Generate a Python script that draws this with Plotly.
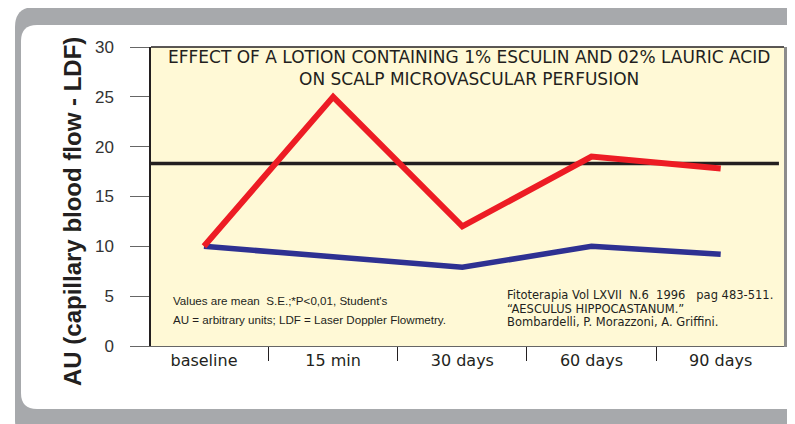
import plotly.graph_objects as go

categories = ["baseline", "15 min", "30 days", "60 days", "90 days"]
lotion = [10.0, 25.0, 12.0, 19.0, 17.8]
control = [10.0, 9.0, 7.9, 10.0, 9.2]
reference_level = 18.3
y_ticks = [0, 5, 10, 15, 20, 25, 30]

title_lines = ["EFFECT OF A LOTION CONTAINING 1% ESCULIN AND 02% LAURIC ACID",
               "ON SCALP MICROVASCULAR PERFUSION"]
note_left = ["Values are mean  S.E.;*P<0,01, Student's",
             "AU = arbitrary units; LDF = Laser Doppler Flowmetry."]
note_right = ["Fitoterapia Vol LXVII  N.6  1996   pag 483-511.",
              "\u201cAESCULUS HIPPOCASTANUM.\u201d",
              "Bombardelli, P. Morazzoni, A. Griffini."]

# page is 795x424 but the body has an 8px margin
OFF = 8
W, H = 795 - OFF, 424 - OFF
L, R, T, B = 151, 784, 47, 346  # plot area in page pixels


def px(x):
    return (x - L) / (R - L)


def py(y):
    return (B - y) / (B - T)


def rounded_left_rect(x0, y0, x1, y1, r):
    pts = [("M", [(x0 + r, y0)]), ("L", [(x1, y0)]), ("L", [(x1, y1)]),
           ("L", [(x0 + r, y1)]), ("Q", [(x0, y1), (x0, y1 - r)]),
           ("L", [(x0, y0 + r)]), ("Q", [(x0, y0), (x0 + r, y0)])]
    s = ""
    for cmd, ps in pts:
        s += cmd + " " + " ".join(f"{px(a):.5f},{py(b):.5f}" for a, b in ps) + " "
    return s + "Z"


fig = go.Figure()
fig.add_trace(go.Scatter(x=categories, y=control, mode="lines",
                         line=dict(color="#2E3192", width=5.5), hoverinfo="skip"))
fig.add_trace(go.Scatter(x=categories, y=lotion, mode="lines",
                         line=dict(color="#ED1C24", width=6), hoverinfo="skip"))

shapes = [
    dict(type="path", xref="paper", yref="paper", layer="below",
         path=rounded_left_rect(15, 7, 820, 440, 20),
         fillcolor="#A7A9AC", line=dict(width=0)),
    dict(type="path", xref="paper", yref="paper", layer="below",
         path=rounded_left_rect(21, 25, 820, 409, 16),
         fillcolor="#FFFFFF", line=dict(width=0)),
    dict(type="rect", xref="paper", yref="paper", layer="below",
         x0=0, x1=1, y0=0, y1=1, fillcolor="#FFF9D6", line=dict(width=0)),
    dict(type="line", xref="paper", yref="y", x0=0, x1=0.992,
         y0=reference_level, y1=reference_level,
         line=dict(color="#231F20", width=3.5), layer="below"),
    dict(type="line", xref="paper", yref="paper", x0=0, x1=1, y0=1, y1=1,
         line=dict(color="#231F20", width=1.5)),
    dict(type="line", xref="paper", yref="paper", x0=px(785.5), x1=px(785.5), y0=-0.003, y1=1,
         line=dict(color="#8C8C8C", width=3)),
]

annotations = [
    dict(xref="paper", yref="paper", x=px(469), y=py(57), text=title_lines[0],
         showarrow=False, font=dict(family="DejaVu Sans", size=17, color="#231F20"),
         xanchor="center", yanchor="middle"),
    dict(xref="paper", yref="paper", x=px(469), y=py(79), text=title_lines[1],
         showarrow=False, font=dict(family="DejaVu Sans", size=17, color="#231F20"),
         xanchor="center", yanchor="middle"),
    dict(xref="paper", yref="paper", x=px(72), y=py(212),
         text="<b>AU (capillary blood flow - LDF)</b>", textangle=-90,
         showarrow=False, font=dict(family="Liberation Sans", size=24, color="#231F20"),
         xanchor="center", yanchor="middle"),
]
for i, t in enumerate(note_left):
    annotations.append(dict(xref="paper", yref="paper", x=px(171), y=py(300 + 19 * i),
                            text=t, showarrow=False, xanchor="left", yanchor="middle",
                            font=dict(family="Liberation Sans", size=11.6, color="#231F20")))
for i, t in enumerate(note_right):
    annotations.append(dict(xref="paper", yref="paper", x=px(505), y=py(295 + 13.5 * i),
                            text=t, showarrow=False, xanchor="left", yanchor="middle",
                            font=dict(family="DejaVu Sans", size=11.5, color="#231F20")))

fig.update_layout(
    width=W, height=H,
    margin=dict(l=L - OFF, r=W - (R - OFF), t=T - OFF, b=H - (B - OFF)),
    paper_bgcolor="#FFFFFF", plot_bgcolor="#FFF9D6",
    showlegend=False, shapes=shapes, annotations=annotations,
    xaxis=dict(type="category", range=[-0.41, 4.49], showgrid=False, zeroline=False,
               showline=True, linecolor="#666666", linewidth=1,
               ticks="outside", tickson="boundaries", ticklen=14, tickcolor="#231F20",
               tickwidth=1, ticklabelstandoff=0,
               tickfont=dict(family="DejaVu Sans", size=16, color="#231F20")),
    yaxis=dict(range=[0, 30], tickvals=y_ticks, showgrid=False, zeroline=False,
               showline=True, linecolor="#231F20", linewidth=1.5,
               ticks="outside", ticklen=19, tickcolor="#666666", tickwidth=1,
               ticklabelstandoff=13,
               tickfont=dict(family="Liberation Sans", size=17, color="#333333")),
)

fig.write_html("out.html")
